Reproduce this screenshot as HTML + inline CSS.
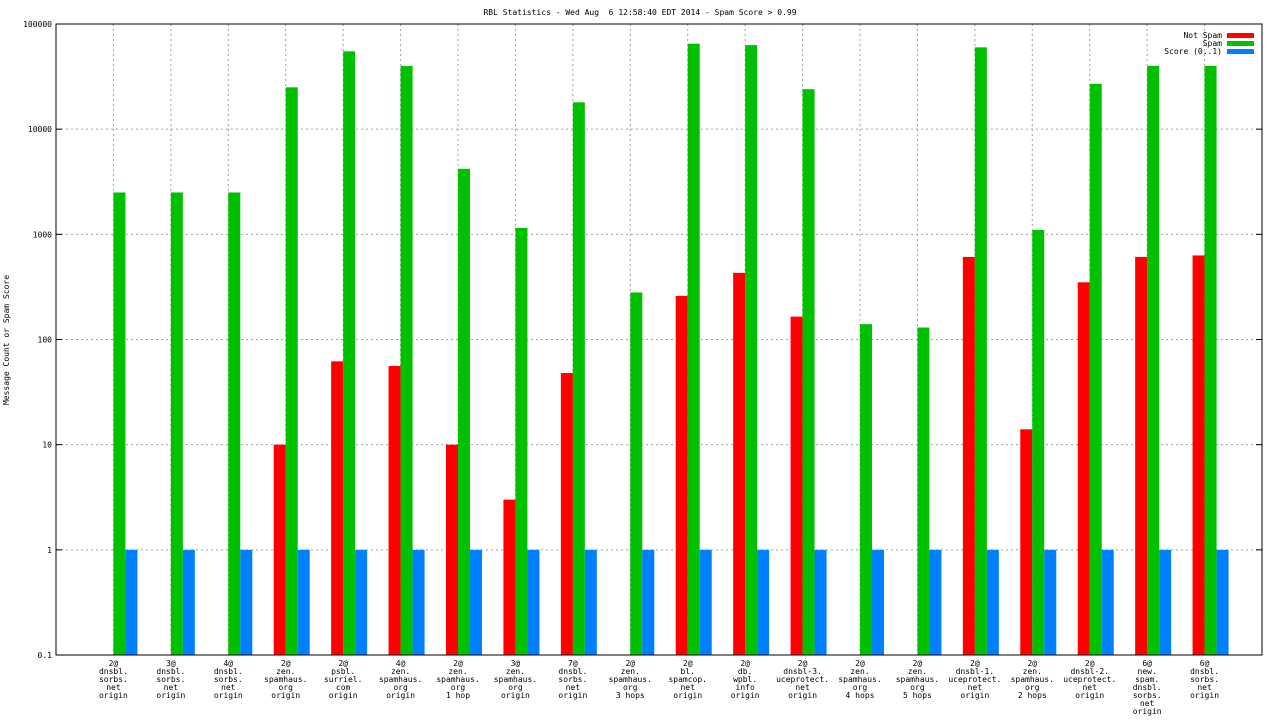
<!DOCTYPE html>
<html><head><meta charset="utf-8"><style>
html,body{margin:0;padding:0;background:#fff}
svg{display:block}
text{font-family:"DejaVu Sans Mono","Liberation Mono",monospace;font-size:8px;fill:#000}
</style></head><body>
<svg id="chart" width="1280" height="720"></svg>
<script>
const categories=[
["2@","dnsbl.","sorbs.","net","origin"],["3@","dnsbl.","sorbs.","net","origin"],["4@","dnsbl.","sorbs.","net","origin"],
["2@","zen.","spamhaus.","org","origin"],["2@","psbl.","surriel.","com","origin"],["4@","zen.","spamhaus.","org","origin"],
["2@","zen.","spamhaus.","org","1 hop"],["3@","zen.","spamhaus.","org","origin"],["7@","dnsbl.","sorbs.","net","origin"],
["2@","zen.","spamhaus.","org","3 hops"],["2@","bl.","spamcop.","net","origin"],["2@","db.","wpbl.","info","origin"],
["2@","dnsbl-3.","uceprotect.","net","origin"],["2@","zen.","spamhaus.","org","4 hops"],["2@","zen.","spamhaus.","org","5 hops"],
["2@","dnsbl-1.","uceprotect.","net","origin"],["2@","zen.","spamhaus.","org","2 hops"],["2@","dnsbl-2.","uceprotect.","net","origin"],
["6@","new.","spam.","dnsbl.","sorbs.","net","origin"],["6@","dnsbl.","sorbs.","net","origin"]];
const notSpam=[0,0,0,10,62,56,10,3,48,0,260,430,165,0,0,610,14,350,610,630];
const spam=[2500,2500,2500,25000,55000,40000,4200,1150,18000,280,65000,63000,24000,140,130,60000,1100,27000,40000,40000];
const score=[1,1,1,1,1,1,1,1,1,1,1,1,1,1,1,1,1,1,1,1];
const yTicks=[0.1,1,10,100,1000,10000,100000];
const yTickLabels=["0.1","1","10","100","1000","10000","100000"];
const NS="http://www.w3.org/2000/svg",svg=document.getElementById('chart');
const L=56,R=1262,T=24,B=655;
const y=v=>B-(Math.log10(v)+1)/6*(B-T);
const x=i=>L+(R-L)/(categories.length+1)*(i+1);
function mk(t,a,p){const e=document.createElementNS(NS,t);for(const k in a)e.setAttribute(k,a[k]);(p||svg).appendChild(e);return e;}
let e;
yTicks.forEach((v,i)=>{
 if(i>0&&i<yTicks.length-1){e=mk('line',{x1:L,x2:R,y1:y(v),y2:y(v),stroke:'#a0a0a0','stroke-dasharray':'2,3'});
 }
 e=mk('text',{x:L-4,y:y(v)+3,'text-anchor':'end'});e.textContent=yTickLabels[i];
 
 mk('line',{x1:L,x2:L+6,y1:y(v),y2:y(v),stroke:'#000'});mk('line',{x1:R-6,x2:R,y1:y(v),y2:y(v),stroke:'#000'});
});
categories.forEach((c,i)=>{
 const cx=x(i);
 e=mk('line',{x1:cx,x2:cx,y1:T,y2:B,stroke:'#a0a0a0','stroke-dasharray':'2,3'});
 
 const bars=[[notSpam[i],'#ff0000',-12,'bar-not-spam'],[spam[i],'#00c000',0,'bar-spam'],[score[i],'#0080ff',12,'bar-score']];
 bars.forEach(b=>{if(b[0]>0){const yt=y(Math.max(b[0],0.1));
  e=mk('rect',{x:cx+b[2],y:yt,width:12,height:B-yt,fill:b[1]});
  }});
 const t=mk('text',{x:cx,y:666,'text-anchor':'middle'});
 
 c.forEach((s,j)=>{const ts=mk('tspan',{x:cx,dy:j?8:0},t);ts.textContent=s;});
});
e=mk('rect',{x:L,y:T,width:R-L,height:B-T,fill:'none',stroke:'#000'});

e=mk('text',{x:640,y:15,'text-anchor':'middle'});e.textContent='RBL Statistics - Wed Aug  6 12:58:40 EDT 2014 - Spam Score > 0.99';
e.style.whiteSpace='pre';
e=mk('text',{x:9,y:340,'text-anchor':'middle',transform:'rotate(-90 9 340)'});e.textContent='Message Count or Spam Score';

[['Not Spam','#ff0000'],['Spam','#00c000'],['Score (0..1)','#0080ff']].forEach((l,i)=>{
 const g=mk('g',{});
 const tt=mk('text',{x:1222,y:38+i*8,'text-anchor':'end'},g);tt.textContent=l[0];
 mk('rect',{x:1227,y:33+i*8,width:27,height:5,fill:l[1]},g);
});
</script>
</body></html>
